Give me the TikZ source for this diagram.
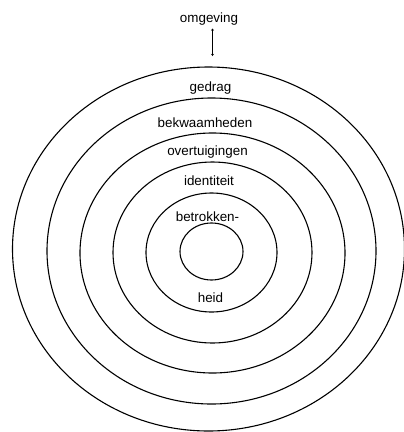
\documentclass[tikz,border=0pt]{standalone}
\usepackage{fontspec}
\setmainfont{Liberation Sans}
\usetikzlibrary{arrows.meta}

\begin{document}
\begin{tikzpicture}[
  x=1pt,y=-1pt,
  >=Stealth,
  ring/.style={draw=black,line width=1.1pt},
  layer/.style={font=\fontsize{13.4}{15}\selectfont,inner sep=0pt,anchor=base},
  influence/.style={draw=black,line width=0.9pt,
    {Stealth[length=2.2pt,width=3pt]}-{Stealth[length=2.2pt,width=3pt]}}
]
  \useasboundingbox (0,0) rectangle (404,432);

  % Concentric levels, from the core outwards.
  \foreach \cx/\cy/\rx/\ry in {211.5/251.5/31.5/28.5, 211.5/252.5/65.5/59.5,
      212.5/252.5/99.5/90.5, 212.5/253/132.5/120, 211.5/251/164.5/153,
      208.5/249/196/182}
    \draw[ring] (\cx,\cy) ellipse [x radius=\rx, y radius=\ry];

  % Level names.
  \node[layer] (gedrag)        at (210.5,91)  {gedrag};
  \node[layer] (bekwaamheden)  at (205,127)   {bekwaamheden};
  \node[layer] (overtuigingen) at (207.5,155) {overtuigingen};
  \node[layer] (identiteit)    at (209,185)   {identiteit};
  \node[layer] (betrokken)     at (207.5,221) {betrokken-};
  \node[layer] (heid)          at (210.5,302) {heid};

  % Surroundings above the outer ring.
  \node[layer] (omgeving) at (209,22) {omgeving};
  \coordinate (omgevingtop) at (212.5,28.5);
  \coordinate (omgevingend) at (212.5,56);
  \draw[influence] (omgevingtop) -- (omgevingend);
\end{tikzpicture}
\end{document}
